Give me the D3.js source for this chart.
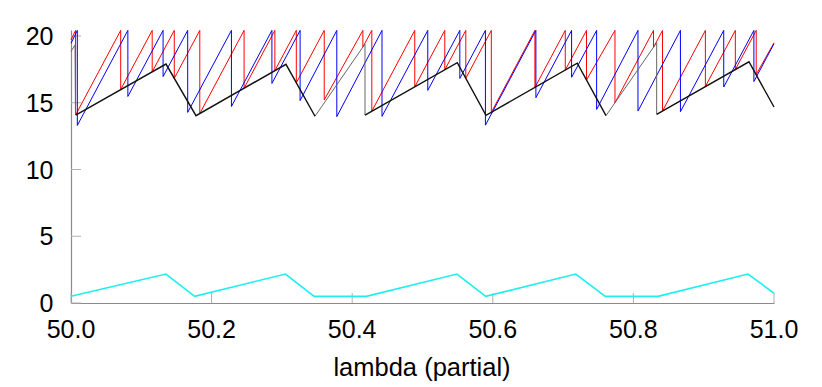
<!DOCTYPE html>
<html>
<head>
<meta charset="utf-8">
<script src="https://cdn.jsdelivr.net/npm/d3@7"></script>
<style>
  html, body { margin: 0; padding: 0; background: #fff; }
  svg { display: block; }
  text { font-family: "Liberation Sans", Arial, Helvetica, sans-serif; fill: #000; }
</style>
</head>
<body>
<svg id="chart" width="822" height="387"></svg>
<script>
// ---- data ----
const xTicks = [50.0, 50.2, 50.4, 50.6, 50.8, 51.0];
const yTicks = [0, 5, 10, 15, 20];
const xLabel = "lambda (partial)";

const redX = [50.0, 50.0065, 50.0065, 50.0707, 50.0707, 50.1155, 50.1155, 50.1469, 50.1469, 50.1832, 50.1832,
  50.2462, 50.2462, 50.2900, 50.2900, 50.3205, 50.3205, 50.3602, 50.3602, 50.4152, 50.4152, 50.4279, 50.4279,
  50.4890, 50.4890, 50.5317, 50.5317, 50.5616, 50.5616, 50.5979, 50.5979, 50.6599, 50.6599, 50.7031, 50.7031,
  50.7333, 50.7333, 50.7738, 50.7738, 50.8286, 50.8286, 50.8414, 50.8414, 50.9024, 50.9024, 50.9450, 50.9450,
  50.9747, 50.9747, 51.0];
const redY = [19.70, 20.42, 14.08, 20.42, 15.99, 20.42, 17.32, 20.42, 16.83, 20.42, 14.19,
  20.42, 16.09, 20.42, 17.41, 20.42, 16.49, 20.42, 15.21, 20.42, 19.18, 20.42, 14.37,
  20.42, 16.19, 20.42, 17.47, 20.42, 16.83, 20.42, 14.28, 20.42, 16.14, 20.42, 17.45,
  20.42, 16.70, 20.42, 15.00, 20.42, 19.15, 20.42, 14.38, 20.42, 16.22, 20.42, 17.49,
  20.42, 17.12, 19.49];

const blueX = [50.0, 50.0090, 50.0090, 50.0809, 50.0809, 50.1310, 50.1310, 50.1660, 50.1660, 50.2282, 50.2282,
  50.2858, 50.2858, 50.3259, 50.3259, 50.3781, 50.3781, 50.4424, 50.4424, 50.5075, 50.5075, 50.5531, 50.5531,
  50.5895, 50.5895, 50.6613, 50.6613, 50.7121, 50.7121, 50.7477, 50.7477, 50.8065, 50.8065, 50.8669, 50.8669,
  50.9285, 50.9285, 50.9714, 50.9714, 51.0];
const blueY = [19.45, 20.42, 13.30, 20.42, 15.47, 20.42, 16.96, 20.42, 14.28, 20.42, 14.72,
  20.42, 16.45, 20.42, 15.16, 20.42, 13.96, 20.42, 13.98, 20.42, 15.93, 20.42, 16.82,
  20.42, 13.32, 20.42, 15.38, 20.42, 16.91, 20.42, 14.50, 20.42, 14.38, 20.42, 14.33,
  20.42, 16.18, 20.42, 16.59, 19.42];

// black series (null = gap)
const blackX = [50.0067, 50.1351, 50.1778, 50.3058, 50.3471, 50.38, 50.4182, 50.5495, 50.5903, 50.7202, 50.7610, 50.80, 50.8331, 50.9644, 51.0];
const blackY = [14.08, 17.90, 14.03, 17.88, 13.99, null, 14.08, 18.00, 14.06, 17.96, 14.03, null, 14.13, 18.07, 14.68];

// thin gray series (null = gap)
const grayX = [50.0, 50.0057, 50.0064, 50.02, 50.3471, 50.4182, 50.4182, 50.60, 50.7610, 50.8331, 50.8331];
const grayY = [18.84, 19.33, 14.08, null, 13.99, 19.40, 14.08, null, 14.03, 19.50, 14.13];

const cyanX = [50.0, 50.135, 50.176, 50.305, 50.346, 50.420, 50.549, 50.590, 50.718, 50.760, 50.835, 50.963, 51.0];
const cyanY = [0.50, 2.17, 0.50, 2.17, 0.50, 0.50, 2.17, 0.50, 2.17, 0.50, 0.50, 2.17, 0.73];

// ---- layout ----
const svg = d3.select("#chart");
const x = d3.scaleLinear().domain([50.0, 51.0]).range([71, 774]);
const y = d3.scaleLinear().domain([0, 20.45]).range([303, 30]);

const zip = (xs, ys) => xs.map((v, i) => [v, ys[i]]);
const line = d3.line()
  .defined(d => d[1] !== null)
  .x(d => x(d[0]))
  .y(d => y(d[1]));

// axes
const axisColor = "#8a8a8a";
const xAxis = d3.axisBottom(x).tickValues(xTicks).tickSize(0).tickFormat("");
const yAxis = d3.axisLeft(y).tickValues(yTicks).tickSize(0).tickFormat("");

svg.append("g").attr("transform", "translate(0,303)").call(xAxis)
  .call(g => g.select(".domain").attr("stroke", axisColor).attr("stroke-width", 1.2));
svg.append("g").attr("transform", "translate(71,0)").call(yAxis)
  .call(g => g.select(".domain").attr("stroke", axisColor).attr("stroke-width", 1.2));

// inward tick marks
svg.append("g").selectAll("line").data(xTicks).join("line")
  .attr("x1", d => x(d)).attr("x2", d => x(d))
  .attr("y1", 303).attr("y2", 293)
  .attr("stroke", "#b0b0b0").attr("stroke-width", 1);
svg.append("g").selectAll("line").data(yTicks).join("line")
  .attr("x1", 71).attr("x2", 81)
  .attr("y1", d => y(d)).attr("y2", d => y(d))
  .attr("stroke", "#b0b0b0").attr("stroke-width", 1);

// tick labels
svg.append("g").selectAll("text").data(xTicks).join("text")
  .attr("x", d => x(d)).attr("y", 337.7)
  .attr("text-anchor", "middle")
  .style("font-size", "25px")
  .text(d => d.toFixed(1));
svg.append("g").selectAll("text").data(yTicks).join("text")
  .attr("x", 53.5).attr("y", d => y(d) + 9)
  .attr("text-anchor", "end")
  .style("font-size", "25px")
  .text(d => d);

svg.append("text")
  .attr("x", 422).attr("y", 376)
  .attr("text-anchor", "middle")
  .style("font-size", "25.5px")
  .text(xLabel);

// series
const plot = svg.append("g");
plot.append("path").datum(zip(cyanX, cyanY)).attr("d", line)
  .attr("fill", "none").attr("stroke", "#1eeeee").attr("stroke-width", 1.6);
plot.append("path").datum(zip(redX, redY)).attr("d", line)
  .attr("fill", "none").attr("stroke", "#ff0000").attr("stroke-width", 1);
plot.append("path").datum(zip(blueX, blueY)).attr("d", line)
  .attr("fill", "none").attr("stroke", "#0000ff").attr("stroke-width", 1);
plot.append("path").datum(zip(grayX, grayY)).attr("d", line)
  .attr("fill", "none").attr("stroke", "#666666").attr("stroke-width", 1);
plot.append("path").datum(zip(blackX, blackY)).attr("d", line)
  .attr("fill", "none").attr("stroke", "#111111").attr("stroke-width", 1.4);
</script>
</body>
</html>
